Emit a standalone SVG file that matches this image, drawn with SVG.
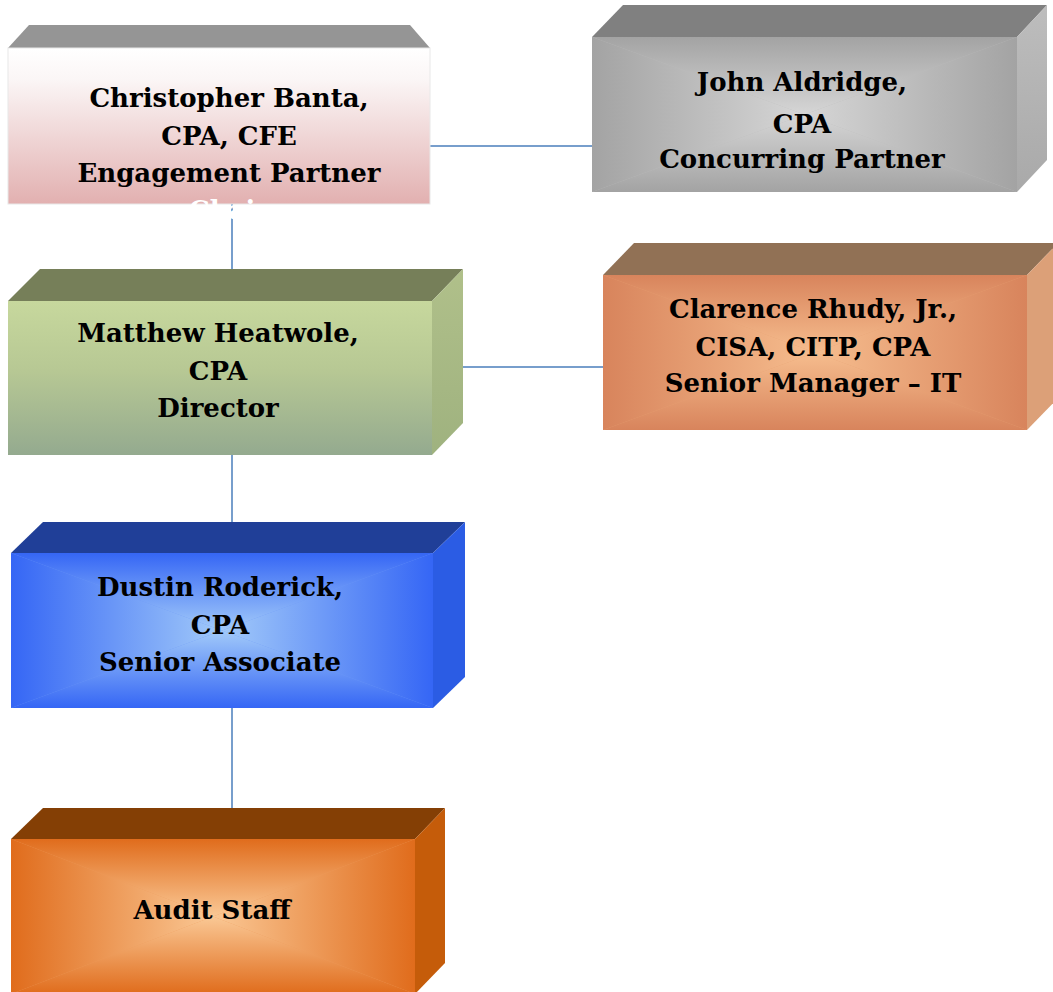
<svg xmlns="http://www.w3.org/2000/svg" width="1053" height="992" viewBox="0 0 1053 992">
<style>
.t{font-family:"DejaVu Serif","Liberation Serif",serif;font-weight:bold;font-size:26px;fill:#000;text-anchor:middle}
.w{fill:#fff}
.c{stroke:#4a7ebb;stroke-width:1.5;fill:none}
.e{stroke:#ffffff;stroke-opacity:0.35;stroke-width:1}
</style>
<defs>
<linearGradient id="f1" x1="0" y1="0" x2="0" y2="1"><stop offset="0" stop-color="#ffffff"/><stop offset="0.2" stop-color="#fbf6f6"/><stop offset="1" stop-color="#e2b0b0"/></linearGradient>
<linearGradient id="f3" x1="0" y1="0" x2="0" y2="1"><stop offset="0" stop-color="#c7d89d"/><stop offset="0.45" stop-color="#b7c894"/><stop offset="1" stop-color="#94aa8f"/></linearGradient>
<linearGradient id="s3" x1="0" y1="0" x2="0" y2="1"><stop offset="0" stop-color="#b0c08a"/><stop offset="1" stop-color="#9fb27f"/></linearGradient>
<linearGradient id="s2" x1="0" y1="0" x2="0" y2="1"><stop offset="0" stop-color="#bdbdbd"/><stop offset="1" stop-color="#a9a9a9"/></linearGradient>
<!-- rectangular path gradients: T top, B bottom, L left, R right -->
<linearGradient id="gT" x1="0" y1="0" x2="0" y2="1"><stop offset="0" stop-color="#a3a3a3"/><stop offset="1" stop-color="#d6d6d6"/></linearGradient>
<linearGradient id="gB" x1="0" y1="1" x2="0" y2="0"><stop offset="0" stop-color="#a3a3a3"/><stop offset="1" stop-color="#d6d6d6"/></linearGradient>
<linearGradient id="gL" x1="0" y1="0" x2="1" y2="0"><stop offset="0" stop-color="#a3a3a3"/><stop offset="1" stop-color="#d6d6d6"/></linearGradient>
<linearGradient id="gR" x1="1" y1="0" x2="0" y2="0"><stop offset="0" stop-color="#a3a3a3"/><stop offset="1" stop-color="#d6d6d6"/></linearGradient>
<linearGradient id="oT" x1="0" y1="0" x2="0" y2="1"><stop offset="0" stop-color="#d8845c"/><stop offset="1" stop-color="#f6bd8e"/></linearGradient>
<linearGradient id="oB" x1="0" y1="1" x2="0" y2="0"><stop offset="0" stop-color="#d8845c"/><stop offset="1" stop-color="#f6bd8e"/></linearGradient>
<linearGradient id="oL" x1="0" y1="0" x2="1" y2="0"><stop offset="0" stop-color="#d8845c"/><stop offset="1" stop-color="#f6bd8e"/></linearGradient>
<linearGradient id="oR" x1="1" y1="0" x2="0" y2="0"><stop offset="0" stop-color="#d8845c"/><stop offset="1" stop-color="#f6bd8e"/></linearGradient>
<linearGradient id="bT" x1="0" y1="0" x2="0" y2="1"><stop offset="0" stop-color="#3566f5"/><stop offset="1" stop-color="#a2caf9"/></linearGradient>
<linearGradient id="bB" x1="0" y1="1" x2="0" y2="0"><stop offset="0" stop-color="#3566f5"/><stop offset="1" stop-color="#a2caf9"/></linearGradient>
<linearGradient id="bL" x1="0" y1="0" x2="1" y2="0"><stop offset="0" stop-color="#3566f5"/><stop offset="1" stop-color="#a2caf9"/></linearGradient>
<linearGradient id="bR" x1="1" y1="0" x2="0" y2="0"><stop offset="0" stop-color="#3566f5"/><stop offset="1" stop-color="#a2caf9"/></linearGradient>
<linearGradient id="aT" x1="0" y1="0" x2="0" y2="1"><stop offset="0" stop-color="#e06c1c"/><stop offset="1" stop-color="#fac895"/></linearGradient>
<linearGradient id="aB" x1="0" y1="1" x2="0" y2="0"><stop offset="0" stop-color="#e06c1c"/><stop offset="1" stop-color="#fac895"/></linearGradient>
<linearGradient id="aL" x1="0" y1="0" x2="1" y2="0"><stop offset="0" stop-color="#e06c1c"/><stop offset="1" stop-color="#fac895"/></linearGradient>
<linearGradient id="aR" x1="1" y1="0" x2="0" y2="0"><stop offset="0" stop-color="#e06c1c"/><stop offset="1" stop-color="#fac895"/></linearGradient>
</defs>
<rect width="1053" height="992" fill="#ffffff"/>

<g id="connectors">
<line class="c" x1="430" y1="146" x2="592" y2="146"/>
<line class="c" x1="232" y1="204" x2="232" y2="269"/>
<line class="c" x1="463" y1="367" x2="603" y2="367"/>
<line class="c" x1="232" y1="455" x2="232" y2="522"/>
<line class="c" x1="232" y1="708" x2="232" y2="808"/>
</g>

<g id="banta">
<polygon points="29,25 410,25 430,48 8,48" fill="#959595"/>
<rect x="8" y="48" width="422" height="156" fill="url(#f1)" stroke="#e8e8e8" stroke-width="1"/>
<text class="t" x="229" y="107">Christopher Banta,</text>
<text class="t" x="229" y="145">CPA, CFE</text>
<text class="t" x="229" y="182">Engagement Partner</text>
<text class="t w" x="229" y="219">Chair</text>
</g>

<g id="aldridge">
<polygon points="623,5 1047,5 1017,37 592,37" fill="#808080"/>
<polygon points="1017,37 1047,5 1047,160 1017,192" fill="url(#s2)"/>
<rect x="592" y="37" width="425" height="155" fill="#bcbcbc"/>
<polygon points="592,37 1017,37 804.5,114.5" fill="url(#gT)"/>
<polygon points="592,192 1017,192 804.5,114.5" fill="url(#gB)"/>
<polygon points="592,37 592,192 804.5,114.5" fill="url(#gL)"/>
<polygon points="1017,37 1017,192 804.5,114.5" fill="url(#gR)"/>
<text class="t" x="802" y="91">John Aldridge,</text>
<text class="t" x="802" y="133">CPA</text>
<text class="t" x="802" y="168">Concurring Partner</text>
</g>

<g id="heatwole">
<polygon points="40,269 463,269 432,301 8,301" fill="#767f59"/>
<polygon points="432,301 463,269 463,423 432,455" fill="url(#s3)"/>
<rect x="8" y="301" width="424" height="154" fill="url(#f3)"/>
<text class="t" x="218" y="342">Matthew Heatwole,</text>
<text class="t" x="218" y="380">CPA</text>
<text class="t" x="218" y="417">Director</text>
</g>

<g id="rhudy">
<polygon points="634,243 1058,243 1027,275 603,275" fill="#917155"/>
<polygon points="1027,275 1058,243 1058,398 1027,430" fill="#dca078"/>
<rect x="603" y="275" width="424" height="155" fill="#e7a071"/>
<polygon points="603,275 1027,275 815,352.5" fill="url(#oT)"/>
<polygon points="603,430 1027,430 815,352.5" fill="url(#oB)"/>
<polygon points="603,275 603,430 815,352.5" fill="url(#oL)"/>
<polygon points="1027,275 1027,430 815,352.5" fill="url(#oR)"/>
<text class="t" x="813" y="318">Clarence Rhudy, Jr.,</text>
<text class="t" x="813" y="356">CISA, CITP, CPA</text>
<text class="t" x="813" y="392">Senior Manager – IT</text>
</g>

<g id="roderick">
<polygon points="43,522 465,522 433,553 11,553" fill="#203f98"/>
<polygon points="433,553 465,522 465,677 433,708" fill="#2b5ce4"/>
<rect x="11" y="553" width="422" height="155" fill="#6c98f7"/>
<polygon points="11,553 433,553 222,630.5" fill="url(#bT)"/>
<polygon points="11,708 433,708 222,630.5" fill="url(#bB)"/>
<polygon points="11,553 11,708 222,630.5" fill="url(#bL)"/>
<polygon points="433,553 433,708 222,630.5" fill="url(#bR)"/>
<text class="t" x="220" y="596">Dustin Roderick,</text>
<text class="t" x="220" y="634">CPA</text>
<text class="t" x="220" y="671">Senior Associate</text>
</g>

<g id="audit-staff">
<polygon points="43,808 445,808 415,839 11,839" fill="#843f05"/>
<polygon points="415,839 445,808 445,963 415,994" fill="#c55c0a"/>
<rect x="11" y="839" width="404" height="155" fill="#ed9a5a"/>
<polygon points="11,839 415,839 213,916.5" fill="url(#aT)"/>
<polygon points="11,994 415,994 213,916.5" fill="url(#aB)"/>
<polygon points="11,839 11,994 213,916.5" fill="url(#aL)"/>
<polygon points="415,839 415,994 213,916.5" fill="url(#aR)"/>
<text class="t" x="212" y="919">Audit Staff</text>
</g>
</svg>
